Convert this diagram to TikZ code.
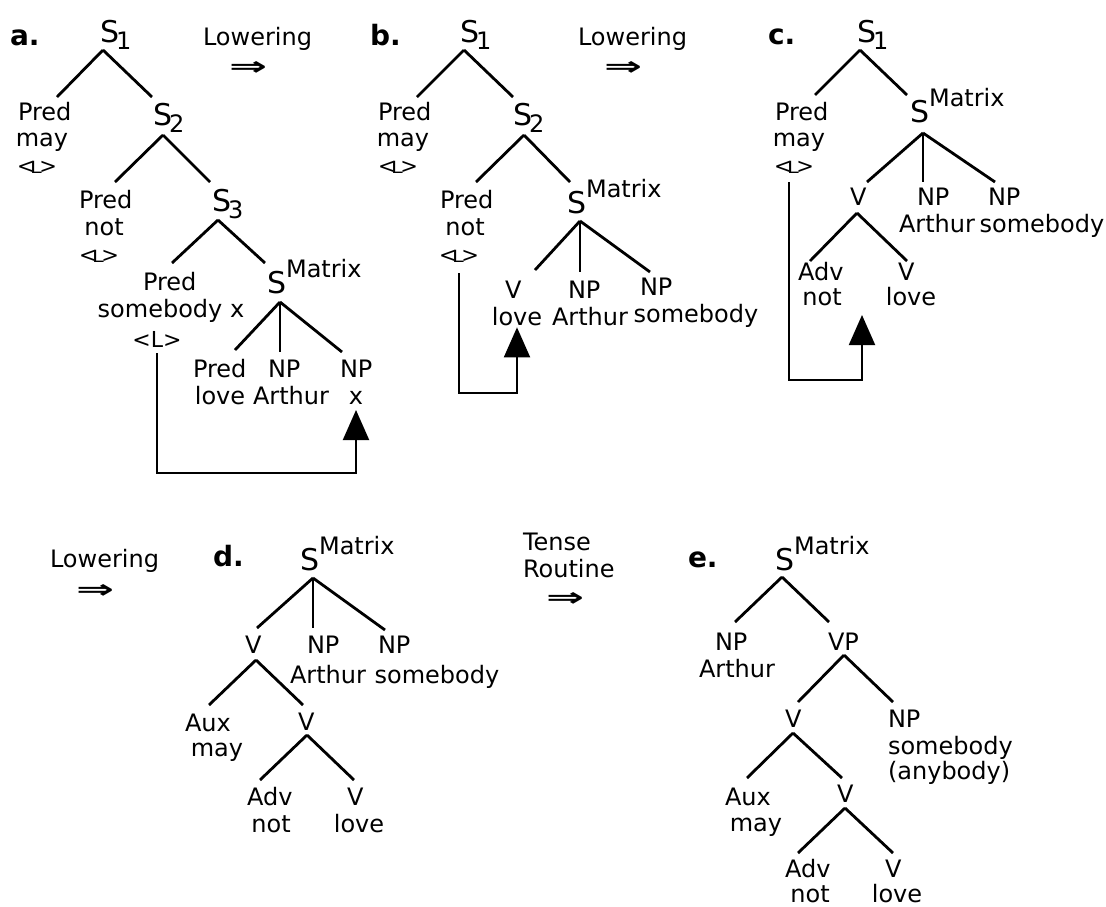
\documentclass[tikz,border=0pt]{standalone}
\usepackage{fontspec}
\setmainfont{DejaVu Sans}
\usepackage{graphicx}
\usetikzlibrary{arrows.meta,calc}

% tree symbols
\newcommand\bigS{{\fontsize{30}{30}\selectfont S}}
\newcommand\subidx[1]{\kern-3pt\raisebox{-7pt}{#1}}
\newcommand\supm{\raisebox{16pt}{Matrix}}
\newcommand\Lm{<\kern-4.5pt\scalebox{1}[0.8]{L}\kern-2.5pt>}
\newcommand\dbl{\resizebox*{38pt}{14pt}{\bfseries\char"21D2}}

\tikzset{
  every node/.style={inner sep=0pt, outer sep=0pt, font=\fontsize{24}{27}\selectfont},
  cat/.style={anchor=base west},
  word/.style={anchor=base},
  tag/.style={anchor=base west, font=\fontsize{28}{28}\selectfont\bfseries},
  shortL/.style={anchor=base, font=\fontsize{21}{21}\selectfont},
  longL/.style={anchor=base, font=\fontsize{22}{22}\selectfont},
  branch/.style={line width=2.8pt},
  move/.style={line width=2pt, -{Triangle[width=26pt,length=30pt]}},
}

\begin{document}
\begin{tikzpicture}[x=1pt,y=-1pt]
\useasboundingbox (0,0) rectangle (1106,906);
\fill[white] (0,0) rectangle (1106,906);

% ---------------- a ----------------
\node[tag] (la) at (10,45) {a.};
\node[cat] (a_s1) at (100,42) {\bigS\subidx{1}};
\node[anchor=base west] (a_low) at (203,45) {Lowering};
\node (a_impl) at (248,68) {\dbl};
\node[cat] (a_pm) at (18,120) {Pred};
\node[word] (a_pm_w) at (42,146) {may};
\node[shortL] (a_pm_l) at (37,173) {\Lm};
\node[cat] (a_s2) at (153,125) {\bigS\subidx{2}};
\node[cat] (a_pn) at (79,208) {Pred};
\node[word] (a_pn_w) at (104,235) {not};
\node[shortL] (a_pn_l) at (99,262) {\Lm};
\node[cat] (a_s3) at (212,211) {\bigS\subidx{3}};
\node[cat] (a_ps) at (143,290) {Pred};
\node[word] (a_ps_w) at (171,317) {somebody x};
\node[longL] (a_ps_l) at (157,347) {<L>};
\node[cat] (a_sm) at (267,293) {\bigS\supm};
\node[cat] (a_pl) at (193,377) {Pred};
\node[word] (a_pl_w) at (220,404) {love};
\node[cat] (a_na) at (268,377) {NP};
\node[word] (a_na_w) at (291,404) {Arthur};
\node[cat] (a_nx) at (340,377) {NP};
\node[word] (a_nx_w) at (356,404) {x};

\draw[branch] ($(a_s1.base west)+(3,8)$) -- ($(a_pm.base west)+(39,-23)$);
\draw[branch] ($(a_s1.base west)+(3,8)$) -- ($(a_s2.base west)+(-1,-28)$);
\draw[branch] ($(a_s2.base west)+(10,10)$) -- ($(a_pn.base west)+(36,-26)$);
\draw[branch] ($(a_s2.base west)+(10,10)$) -- ($(a_s3.base west)+(-2,-29)$);
\draw[branch] ($(a_s3.base west)+(6,9)$) -- ($(a_ps.base west)+(29,-27)$);
\draw[branch] ($(a_s3.base west)+(6,9)$) -- ($(a_sm.base west)+(-2,-30)$);
\draw[branch] ($(a_sm.base west)+(13,9)$) -- ($(a_pl.base west)+(42,-27)$);
\draw[branch] ($(a_sm.base west)+(13,9)$) -- ($(a_na.base west)+(12,-25)$);
\draw[branch] ($(a_sm.base west)+(13,9)$) -- ($(a_nx.base west)+(2,-25)$);
\draw[move, shorten <=6pt, shorten >=6pt] (a_ps_l.south) -- ++(0,126) -| (a_nx_w.south);

% ---------------- b ----------------
\node[tag] (lb) at (370,45) {b.};
\node[cat] (b_s1) at (460,42) {\bigS\subidx{1}};
\node[anchor=base west] (b_low) at (578,45) {Lowering};
\node (b_impl) at (623,68) {\dbl};
\node[cat] (b_pm) at (378,120) {Pred};
\node[word] (b_pm_w) at (403,146) {may};
\node[shortL] (b_pm_l) at (398,173) {\Lm};
\node[cat] (b_s2) at (513,125) {\bigS\subidx{2}};
\node[cat] (b_pn) at (440,208) {Pred};
\node[word] (b_pn_w) at (465,235) {not};
\node[shortL] (b_pn_l) at (459,262) {\Lm};
\node[cat] (b_sm) at (567,213) {\bigS\supm};
\node[cat] (b_v) at (505,298) {V};
\node[word] (b_v_w) at (517,325) {love};
\node[cat] (b_na) at (568,298) {NP};
\node[word] (b_na_w) at (590,325) {Arthur};
\node[cat] (b_ns) at (640,295) {NP};
\node[word] (b_ns_w) at (696,322) {somebody};

\draw[branch] ($(b_s1.base west)+(4,8)$) -- ($(b_pm.base west)+(39,-23)$);
\draw[branch] ($(b_s1.base west)+(4,8)$) -- ($(b_s2.base west)+(0,-28)$);
\draw[branch] ($(b_s2.base west)+(11,10)$) -- ($(b_pn.base west)+(36,-26)$);
\draw[branch] ($(b_s2.base west)+(11,10)$) -- ($(b_sm.base west)+(3,-31)$);
\draw[branch] ($(b_sm.base west)+(13,8)$) -- ($(b_v.base west)+(30,-28)$);
\draw[branch] ($(b_sm.base west)+(13,8)$) -- ($(b_na.base west)+(12,-26)$);
\draw[branch] ($(b_sm.base west)+(13,8)$) -- ($(b_ns.base west)+(10,-23)$);
\draw[move, shorten <=11pt, shorten >=2pt] (b_pn_l.south) -- ++(0,131) -| (b_v_w.south);

% ---------------- c ----------------
\node[tag] (lc) at (768,44) {c.};
\node[cat] (c_s1) at (857,42) {\bigS\subidx{1}};
\node[cat] (c_pm) at (775,120) {Pred};
\node[word] (c_pm_w) at (799,146) {may};
\node[shortL] (c_pm_l) at (794,173) {\Lm};
\node[cat] (c_sm) at (910,122) {\bigS\supm};
\node[cat] (c_v) at (850,205) {V};
\node[cat] (c_na) at (917,205) {NP};
\node[word] (c_na_w) at (937,232) {Arthur};
\node[cat] (c_ns) at (988,205) {NP};
\node[word] (c_ns_w) at (1042,232) {somebody};
\node[cat] (c_adv) at (798,280) {Adv};
\node[word] (c_adv_w) at (822,305) {not};
\node[cat] (c_vl) at (898,280) {V};
\node[word] (c_vl_w) at (911,305) {love};

\draw[branch] ($(c_s1.base west)+(3,8)$) -- ($(c_pm.base west)+(40,-25)$);
\draw[branch] ($(c_s1.base west)+(3,8)$) -- ($(c_sm.base west)+(-3,-27)$);
\draw[branch] ($(c_sm.base west)+(13,11)$) -- ($(c_v.base west)+(17,-23)$);
\draw[branch] ($(c_sm.base west)+(13,11)$) -- ($(c_na.base west)+(6,-23)$);
\draw[branch] ($(c_sm.base west)+(13,11)$) -- ($(c_ns.base west)+(7,-23)$);
\draw[branch] ($(c_v.base west)+(7,8)$) -- ($(c_adv.base west)+(12,-19)$);
\draw[branch] ($(c_v.base west)+(7,8)$) -- ($(c_vl.base west)+(9,-19)$);
\draw[move, shorten <=9pt] ([xshift=-5pt]c_pm_l.south) -- ++(0,207) -| ($(c_v.base west)+(12,110)$);

% ---------------- d ----------------
\node[anchor=base west] (d_low) at (50,567) {Lowering};
\node (d_impl) at (95,591) {\dbl};
\node[tag] (ld) at (213,566) {d.};
\node[cat] (d_sm) at (300,570) {\bigS\supm};
\node[cat] (d_v) at (245,653) {V};
\node[cat] (d_na) at (307,653) {NP};
\node[word] (d_na_w) at (328,683) {Arthur};
\node[cat] (d_ns) at (378,653) {NP};
\node[word] (d_ns_w) at (437,683) {somebody};
\node[cat] (d_aux) at (185,731) {Aux};
\node[word] (d_aux_w) at (217,756) {may};
\node[cat] (d_v2) at (298,730) {V};
\node[cat] (d_adv) at (247,805) {Adv};
\node[word] (d_adv_w) at (271,832) {not};
\node[cat] (d_vl) at (347,805) {V};
\node[word] (d_vl_w) at (359,832) {love};

\draw[branch] ($(d_sm.base west)+(13,8)$) -- ($(d_v.base west)+(12,-25)$);
\draw[branch] ($(d_sm.base west)+(13,8)$) -- ($(d_na.base west)+(6,-25)$);
\draw[branch] ($(d_sm.base west)+(13,8)$) -- ($(d_ns.base west)+(7,-23)$);
\draw[branch] ($(d_v.base west)+(11,7)$) -- ($(d_aux.base west)+(24,-26)$);
\draw[branch] ($(d_v.base west)+(11,7)$) -- ($(d_v2.base west)+(5,-25)$);
\draw[branch] ($(d_v2.base west)+(9,5)$) -- ($(d_adv.base west)+(13,-25)$);
\draw[branch] ($(d_v2.base west)+(9,5)$) -- ($(d_vl.base west)+(7,-25)$);

% ---------------- e ----------------
\node[anchor=base west] (e_t1) at (523,550) {Tense};
\node[anchor=base west] (e_t2) at (523,577) {Routine};
\node (e_impl) at (565,599) {\dbl};
\node[tag] (le) at (688,567) {e.};
\node[cat] (e_sm) at (775,570) {\bigS\supm};
\node[cat] (e_na) at (715,650) {NP};
\node[word] (e_na_w) at (737,677) {Arthur};
\node[cat] (e_vp) at (828,650) {VP};
\node[cat] (e_v) at (785,727) {V};
\node[cat] (e_ns) at (888,727) {NP};
\node[anchor=base west] (e_ns_w) at (888,754) {somebody};
\node[anchor=base west] (e_ns_x) at (888,779) {(anybody)};
\node[cat] (e_aux) at (725,805) {Aux};
\node[word] (e_aux_w) at (756,831) {may};
\node[cat] (e_v2) at (837,802) {V};
\node[cat] (e_adv) at (785,877) {Adv};
\node[word] (e_adv_w) at (810,902) {not};
\node[cat] (e_vl) at (885,877) {V};
\node[word] (e_vl_w) at (897,902) {love};

\draw[branch] ($(e_sm.base west)+(7,7)$) -- ($(e_na.base west)+(20,-28)$);
\draw[branch] ($(e_sm.base west)+(7,7)$) -- ($(e_vp.base west)+(1,-28)$);
\draw[branch] ($(e_vp.base west)+(16,5)$) -- ($(e_v.base west)+(13,-25)$);
\draw[branch] ($(e_vp.base west)+(16,5)$) -- ($(e_ns.base west)+(5,-25)$);
\draw[branch] ($(e_v.base west)+(8,6)$) -- ($(e_aux.base west)+(22,-27)$);
\draw[branch] ($(e_v.base west)+(8,6)$) -- ($(e_v2.base west)+(5,-24)$);
\draw[branch] ($(e_v2.base west)+(8,6)$) -- ($(e_adv.base west)+(13,-24)$);
\draw[branch] ($(e_v2.base west)+(8,6)$) -- ($(e_vl.base west)+(8,-24)$);
\end{tikzpicture}
\end{document}
